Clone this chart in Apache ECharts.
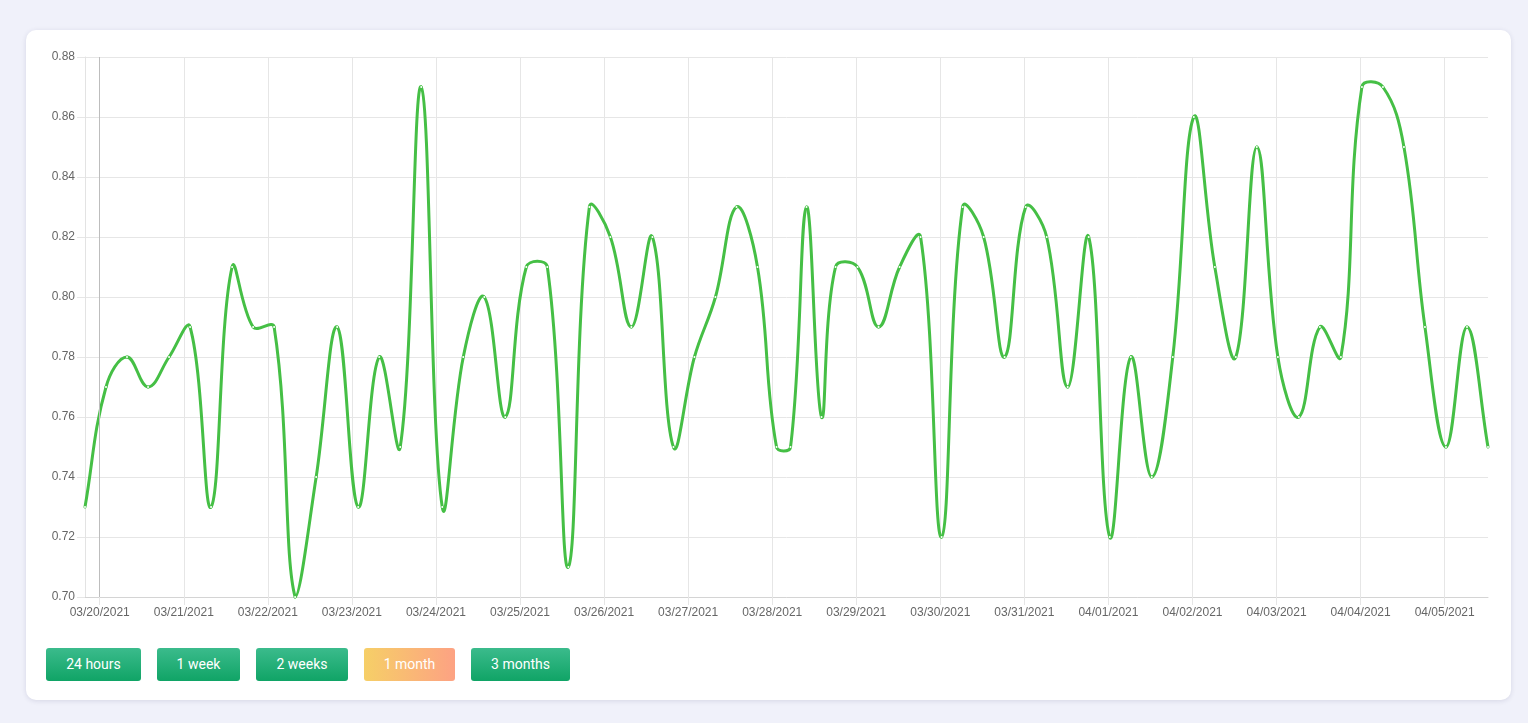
<!DOCTYPE html>
<html>
<head>
<meta charset="utf-8">
<script src="https://cdn.jsdelivr.net/npm/echarts@6/dist/echarts.min.js"></script>
<style>
  html, body { margin:0; padding:0; width:1528px; height:723px; background:#f0f1fa; overflow:hidden; font-family: Roboto, 'Liberation Sans', Arial, sans-serif; }
  .card { position:absolute; left:26px; top:30px; width:1485px; height:670px; background:#fff; border-radius:10px; box-shadow:0 1px 5px rgba(40,40,90,0.13); }
  #chart { position:absolute; left:26px; top:30px; width:1485px; height:610px; }
  .btns { position:absolute; left:46px; top:648px; display:flex; gap:16px; }
  .btn { height:33px; line-height:33px; text-align:center; color:#fff; font-size:14px; font-family:Roboto, sans-serif; border-radius:3px; background:linear-gradient(#3bbb8c, #10a466); }
  .btn.active { background:linear-gradient(90deg, #f6cf67, #fda283); }
</style>
</head>
<body>
<div class="card"></div>
<div id="chart"></div>
<div class="btns">
  <div class="btn" style="width:95px">24 hours</div>
  <div class="btn" style="width:83px">1 week</div>
  <div class="btn" style="width:92px">2 weeks</div>
  <div class="btn active" style="width:91px">1 month</div>
  <div class="btn" style="width:99px">3 months</div>
</div>
<script>
const times = [
  '2021-03-19 19:48',
  '2021-03-20 01:48','2021-03-20 07:48','2021-03-20 13:48','2021-03-20 19:48',
  '2021-03-21 01:48','2021-03-21 07:48','2021-03-21 13:48','2021-03-21 19:48',
  '2021-03-22 01:48','2021-03-22 07:48','2021-03-22 13:48','2021-03-22 19:48',
  '2021-03-23 01:48','2021-03-23 07:48','2021-03-23 13:48','2021-03-23 19:48',
  '2021-03-24 01:48','2021-03-24 07:48','2021-03-24 13:48','2021-03-24 19:48',
  '2021-03-25 01:48','2021-03-25 07:48','2021-03-25 13:48','2021-03-25 19:48',
  '2021-03-26 01:48','2021-03-26 07:48','2021-03-26 13:48','2021-03-26 19:48',
  '2021-03-27 01:48','2021-03-27 07:48','2021-03-27 13:48','2021-03-27 19:48',
  '2021-03-28 01:14','2021-03-28 05:14','2021-03-28 09:48','2021-03-28 14:05','2021-03-28 18:05',
  '2021-03-29 00:22','2021-03-29 06:22','2021-03-29 12:22','2021-03-29 18:22',
  '2021-03-30 00:22','2021-03-30 06:22','2021-03-30 12:22','2021-03-30 18:22',
  '2021-03-31 00:22','2021-03-31 06:22','2021-03-31 12:22','2021-03-31 18:22',
  '2021-04-01 00:22','2021-04-01 06:22','2021-04-01 12:22','2021-04-01 18:22',
  '2021-04-02 00:22','2021-04-02 06:22','2021-04-02 12:22','2021-04-02 18:22',
  '2021-04-03 00:22','2021-04-03 06:22','2021-04-03 12:22','2021-04-03 18:22',
  '2021-04-04 00:22','2021-04-04 06:22','2021-04-04 12:22','2021-04-04 18:22',
  '2021-04-05 00:22','2021-04-05 06:22','2021-04-05 12:22'
];
const values = [
  0.73,
  0.77, 0.78, 0.77, 0.78,
  0.79, 0.73, 0.81, 0.79,
  0.79, 0.70, 0.74, 0.79,
  0.73, 0.78, 0.75, 0.87,
  0.73, 0.78, 0.80, 0.76,
  0.81, 0.81, 0.71, 0.83,
  0.82, 0.79, 0.82, 0.75,
  0.78, 0.80, 0.83, 0.81,
  0.75, 0.75, 0.83, 0.76, 0.81,
  0.81, 0.79, 0.81, 0.82,
  0.72, 0.83, 0.82, 0.78,
  0.83, 0.82, 0.77, 0.82,
  0.72, 0.78, 0.74, 0.78,
  0.86, 0.81, 0.78, 0.85,
  0.78, 0.76, 0.79, 0.78,
  0.87, 0.87, 0.85, 0.79,
  0.75, 0.79, 0.75
];
const yTicks = { min: 0.70, max: 0.88, step: 0.02 };
const firstDayTick = '2021-03-20 00:00';

function parseLocal(s) {
  const [d, t] = s.split(' ');
  const [y, m, dd] = d.split('-').map(Number);
  const [h, mi] = t.split(':').map(Number);
  return new Date(y, m - 1, dd, h, mi).getTime();
}
function pad(n) { return (n < 10 ? '0' : '') + n; }
const DAY = 86400000;
const ts = times.map(parseLocal);
const seriesData = ts.map((t, i) => [t, values[i]]);
const N = seriesData.length;
const TENSION = 0.4;
const LINE_COLOR = '#45bf45';

// Chart.js-style spline control points (tension 0.4, capped to the plotting area)
function controlPoints(i, api, area) {
  const cur = api.coord(seriesData[i]);
  const prev = api.coord(seriesData[Math.max(i - 1, 0)]);
  const next = api.coord(seriesData[Math.min(i + 1, N - 1)]);
  const d01 = Math.hypot(cur[0] - prev[0], cur[1] - prev[1]);
  const d12 = Math.hypot(next[0] - cur[0], next[1] - cur[1]);
  let s01 = d01 / (d01 + d12), s12 = d12 / (d01 + d12);
  if (isNaN(s01)) s01 = 0;
  if (isNaN(s12)) s12 = 0;
  const fa = TENSION * s01, fb = TENSION * s12;
  const cap = (p) => [
    Math.min(Math.max(p[0], area.x), area.x + area.width),
    Math.min(Math.max(p[1], area.y), area.y + area.height)
  ];
  return {
    pt: cur,
    before: cap([cur[0] - fa * (next[0] - prev[0]), cur[1] - fa * (next[1] - prev[1])]),
    after: cap([cur[0] + fb * (next[0] - prev[0]), cur[1] + fb * (next[1] - prev[1])])
  };
}

function renderSegment(params, api) {
  const i = params.dataIndex;
  if (i >= N - 1) return null;
  const area = params.coordSys;
  const a = controlPoints(i, api, area);
  const b = controlPoints(i + 1, api, area);
  return {
    type: 'bezierCurve',
    shape: {
      x1: a.pt[0], y1: a.pt[1],
      cpx1: a.after[0], cpy1: a.after[1],
      cpx2: b.before[0], cpy2: b.before[1],
      x2: b.pt[0], y2: b.pt[1]
    },
    style: { stroke: LINE_COLOR, lineWidth: 3, fill: null, lineCap: 'round' },
    silent: true
  };
}

const chart = echarts.init(document.getElementById('chart'));
chart.setOption({
  animation: false,
  grid: { left: 59, right: 23, top: 27, height: 540 },
  xAxis: {
    type: 'time',
    min: ts[0],
    max: ts[ts.length - 1],
    minInterval: DAY,
    maxInterval: DAY,
    splitNumber: 17,
    axisLine: { show: true, lineStyle: { color: '#d4d4d4', width: 1 } },
    axisTick: { show: true, length: 8, lineStyle: { color: '#e6e6e6' } },
    axisLabel: {
      color: '#666', fontSize: 12, fontFamily: "'Liberation Sans', Arial, sans-serif",
      margin: 10, showMinLabel: false, showMaxLabel: false, hideOverlap: false,
      formatter: function (v) {
        const d = new Date(v);
        return pad(d.getMonth() + 1) + '/' + pad(d.getDate()) + '/' + d.getFullYear();
      }
    },
    splitLine: { show: true, showMinLine: false, showMaxLine: false, lineStyle: { color: '#e6e6e6', width: 1 } }
  },
  yAxis: {
    type: 'value',
    min: yTicks.min, max: yTicks.max, interval: yTicks.step,
    axisLine: { show: true, lineStyle: { color: '#e3e3e3' } },
    axisTick: { show: true, length: 8, lineStyle: { color: '#e6e6e6' } },
    axisLabel: {
      color: '#666', fontSize: 12, fontFamily: "'Liberation Sans', Arial, sans-serif", margin: 10,
      formatter: v => v.toFixed(2)
    },
    splitLine: { show: true, lineStyle: { color: '#e6e6e6', width: 1 } }
  },
  series: [
    {
      type: 'line', z: 1, data: [], silent: true,
      markLine: {
        silent: true, symbol: ['none', 'none'], animation: false,
        label: { show: false },
        lineStyle: { color: '#bdbdbd', type: 'solid', width: 1 },
        emphasis: { disabled: true },
        data: [{ xAxis: parseLocal(firstDayTick) }]
      }
    },
    {
      type: 'custom', z: 3,
      data: seriesData,
      encode: { x: 0, y: 1 },
      renderItem: renderSegment,
      silent: true
    },
    {
      type: 'line', z: 4,
      data: seriesData,
      symbol: 'circle', symbolSize: 2, showSymbol: true,
      itemStyle: { color: '#ffffff', borderWidth: 0 },
      lineStyle: { opacity: 0, width: 0 },
      silent: true
    }
  ]
});
</script>
</body>
</html>
